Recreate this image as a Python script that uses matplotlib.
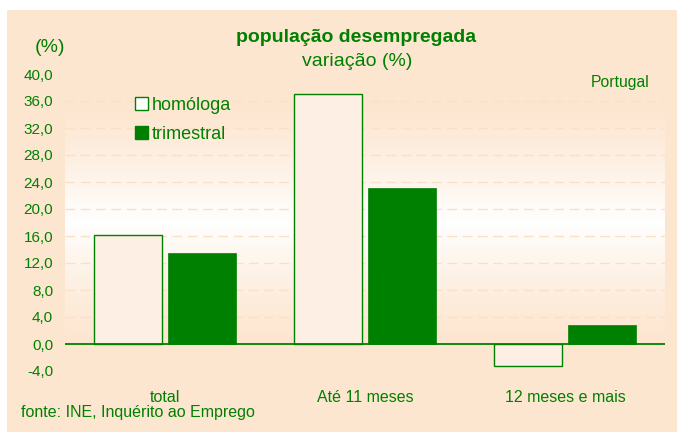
import numpy as np
import matplotlib.pyplot as plt
from matplotlib.patches import Patch, Rectangle
from matplotlib.colors import to_rgb

categories = ['total', 'Até 11 meses', '12 meses e mais']
homologa = [16.1, 37.0, -3.2]
trimestral = [13.5, 23.1, 2.8]
yticks = [-4, 0, 4, 8, 12, 16, 20, 24, 28, 32, 36, 40]
ytick_labels = [f'{v:.1f}'.replace('.', ',') for v in yticks]

green = '#008000'
peach = '#FDE6D0'
light = '#FDEFE3'
grid_col = '#FBE0C8'

plt.rcParams['font.family'] = ['Liberation Sans', 'DejaVu Sans']

W, H = 677, 432
fig = plt.figure(figsize=(W / 100, H / 100), dpi=100)
fig.patch.set_facecolor('white')
fig.add_artist(Rectangle((7 / W, 0), 1, 1 - 10 / H, transform=fig.transFigure,
                         facecolor=peach, edgecolor='none', zorder=-10))

ax = fig.add_axes([65 / W, (H - 371) / H, 600 / W, 297 / H])
ax.set_facecolor('none')
ax.set_xlim(-0.5, 2.5)
ax.set_ylim(-4, 40)

# plot area gradient: peach at top, white in the middle, peach at zero
c0 = np.array(to_rgb(peach))
c1 = np.array([1.0, 1.0, 1.0])
t = np.linspace(0, 1, 200)
w = np.clip(1 - np.abs(t - 0.5) / 0.5, 0, 1) ** 1.3
grad = c0 * (1 - w[:, None]) + c1 * w[:, None]
ax.imshow(grad[:, None, :], extent=[-0.5, 2.5, 0, 36], aspect='auto',
          origin='lower', zorder=0, interpolation='bilinear')

for v in yticks:
    if 0 < v <= 36:
        ax.axhline(v, color=grid_col, lw=1, dashes=(7, 4), zorder=1)

x = np.arange(len(categories))
bw = 0.34
ax.bar(x - 0.185, homologa, bw, color=light, edgecolor=green, linewidth=1, zorder=2)
ax.bar(x + 0.185, trimestral, bw, color=green, edgecolor=green, linewidth=0.5, zorder=2)
ax.axhline(0, color=green, lw=1.3, zorder=3)

ax.set_yticks(yticks, ytick_labels)
ax.set_xticks(x, categories)
ax.tick_params(axis='y', length=0, pad=8.5, labelsize=11, labelcolor=green)
ax.tick_params(axis='x', length=0, pad=14, labelsize=11.5, labelcolor=green)
for s in ax.spines.values():
    s.set_visible(False)

handles = [Patch(facecolor='white', edgecolor=green, linewidth=1),
           Patch(facecolor=green, edgecolor=green)]
ax.legend(handles, ['homóloga', 'trimestral'], loc='upper left',
          bbox_to_anchor=(126 / W, 1 - 88 / H), bbox_transform=fig.transFigure,
          frameon=False, fontsize=13, labelcolor=green, handlelength=0.7,
          handleheight=0.7, handletextpad=0.25, labelspacing=0.65, borderpad=0)

fig.text(356 / W, 1 - 38 / H, 'população desempregada', ha='center', va='center',
         fontsize=14, fontweight='bold', color=green)
fig.text(357 / W, 1 - 61 / H, 'variação (%)', ha='center', va='center',
         fontsize=14, color=green)
fig.text(50 / W, 1 - 48 / H, '(%)', ha='center', va='center', fontsize=14, color=green)
fig.text(620 / W, 1 - 82 / H, 'Portugal', ha='center', va='center', fontsize=11.3, color=green)
fig.text(21 / W, 1 - 412 / H, 'fonte: INE, Inquérito ao Emprego', ha='left', va='center',
         fontsize=11.5, color=green)

fig.savefig('out.png', dpi=100, facecolor=fig.get_facecolor())
